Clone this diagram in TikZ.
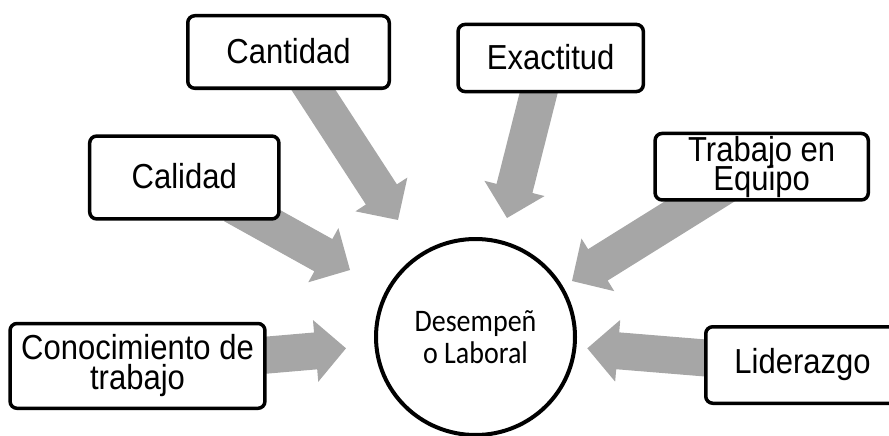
\documentclass[tikz,border=0pt]{standalone}
\usepackage{fontspec}
\setmainfont{Liberation Sans}
\newfontfamily\carlito{Carlito}
\usetikzlibrary{calc,shapes.geometric}
\definecolor{arrowgray}{RGB}{166,166,166}
\newcommand\garrow[2]{%
  \coordinate (hb) at ($(#2)!30.5pt!(#1)$);
  \fill[arrowgray] ($(#1)!18.5pt!90:(#2)$) -- ($(hb)!18.5pt!-90:(#1)$)
    -- ($(hb)!31pt!-90:(#1)$) -- (#2) -- ($(hb)!31pt!90:(#1)$)
    -- ($(hb)!18.5pt!90:(#1)$) -- ($(#1)!18.5pt!-90:(#2)$) -- cycle;}
% vertically stretched single line
\newcommand\tl[1]{\scalebox{1}[1.12]{#1}}
% vertically stretched centred lines with fixed baseline distance
\newcommand\ml[2]{\scalebox{1}[1.12]{\vbox{\lineskiplimit=-\maxdimen
  \baselineskip=#1\halign{\hfil##\hfil\cr#2\crcr}}}}
\tikzset{
  box/.style={draw, line width=3.5pt, rounded corners=7pt, fill=white,
    inner sep=0pt, align=center, font=\fontsize{31}{31}\selectfont},
  centre/.style={ellipse, draw, line width=4pt, inner sep=0pt, align=center,
    minimum width=199pt, minimum height=196pt,
    font=\carlito\fontsize{28}{28}\selectfont}
}
\begin{document}
\begin{tikzpicture}[x=1pt,y=-1pt]
\useasboundingbox (0,0) rectangle (889,436);
\clip (0,0) rectangle (889,436);
% arrow ends
\coordinate (t1) at (233,205);   \coordinate (p1) at (350,270);
\coordinate (t2) at (294,60);    \coordinate (p2) at (398,220);
\coordinate (t3) at (547,60);    \coordinate (p3) at (507,218);
\coordinate (t4) at (734,180);   \coordinate (p4) at (572,281);
\coordinate (t5) at (240,357.4); \coordinate (p5) at (346,348.3);
\coordinate (t6) at (730,360);   \coordinate (p6) at (587.3,348.3);
\garrow{t1}{p1}
\garrow{t2}{p2}
\garrow{t3}{p3}
\garrow{t4}{p4}
\garrow{t5}{p5}
\garrow{t6}{p6}
% boxes
\node[box, minimum width=201.5pt, minimum height=72.5pt] (cant) at (288.5,52) {\raisebox{1.5pt}{\tl{Cantidad}}};
\node[box, minimum width=185.3pt, minimum height=67.1pt] (exac) at (550.7,58) {\raisebox{2pt}{\tl{Exactitud}}};
\node[box, minimum width=189.2pt, minimum height=82.9pt] (cali) at (184.3,177.5) {\raisebox{3pt}{\tl{Calidad}}};
\node[box, minimum width=213.2pt, minimum height=66.5pt] (trab) at (761.7,166.7) {\raisebox{-2.5pt}{\ml{26pt}{Trabajo en\cr Equipo}}};
\node[box, minimum width=254.9pt, minimum height=84.8pt] (cono) at (137.5,365.9) {\raisebox{2pt}{\ml{27pt}{Conocimiento de\cr trabajo}}};
\node[box, minimum width=193.5pt, minimum height=76.5pt] (lide) at (802.5,365) {\tl{Liderazgo}};
\node[centre] (des) at (475.5,337) {\ml{28.3pt}{Desempeñ\cr o Laboral}};
\end{tikzpicture}
\end{document}
